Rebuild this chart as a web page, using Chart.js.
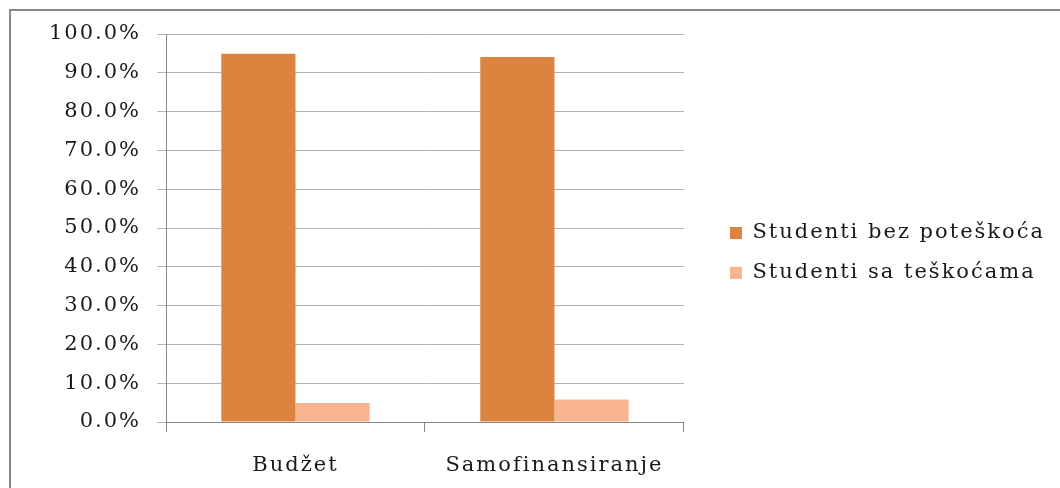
<!DOCTYPE html>
<html>
<head>
<meta charset="utf-8">
<script src="https://cdn.jsdelivr.net/npm/chart.js@4.4.1/dist/chart.umd.min.js"></script>
<style>
  html, body { margin: 0; padding: 0; background: #fff; }
  #frame { position: absolute; left: 9px; top: 9px; width: 1060px; height: 488px;
           border-left: 2px solid #878787; border-top: 2px solid #878787; }
  #wrap { position: absolute; left: 0; top: 0; width: 1060px; height: 488px; }
</style>
</head>
<body>
<div id="frame"></div>
<div id="wrap"><canvas id="chart"></canvas></div>
<script>
// data (percent)
const categories = ["Budžet", "Samofinansiranje"];
const seriesNames = ["Studenti bez poteškoća", "Studenti sa teškoćama"];
const bezPoteskoca = [94.9, 94.1];
const saTeskocama = [4.9, 5.8];

const textFont = { family: "'DejaVu Serif', serif", size: 21 };
const textColor = "#1a1a1a";

// canvas has no letter-spacing option in Chart.js, so set it on the context
const spacing = {
  id: "spacing",
  beforeUpdate(chart) { chart.ctx.letterSpacing = "2px"; },
  beforeLayout(chart) { chart.ctx.letterSpacing = "2px"; },
  beforeDraw(chart) { chart.ctx.letterSpacing = "2px"; }
};

const ctx = document.getElementById("chart").getContext("2d");
const chart = new Chart(ctx, {
  type: "bar",
  data: {
    labels: categories,
    datasets: [
      {
        label: seriesNames[0],
        data: bezPoteskoca,
        backgroundColor: "#dc843f",
        categoryPercentage: 0.573,
        barPercentage: 1.0,
      },
      {
        label: seriesNames[1],
        data: saTeskocama,
        backgroundColor: "#f9b591",
        categoryPercentage: 0.573,
        barPercentage: 1.0,
      },
    ],
  },
  options: {
    responsive: true,
    maintainAspectRatio: false,
    animation: false,
    layout: { padding: { top: 18, right: 5, bottom: 0, left: 0 } },
    plugins: {
      tooltip: { enabled: false },
      legend: {
        position: "right",
        maxWidth: 400,
        labels: {
          boxWidth: 12,
          boxHeight: 12,
          padding: 19,
          color: textColor,
          font: textFont,
        },
      },
    },
    scales: {
      x: {
        grid: {
          offset: true,
          drawOnChartArea: false,
          drawTicks: true,
          tickLength: 10,
          color: "#878787",
        },
        border: { color: "#878787" },
        ticks: { color: textColor, font: textFont, padding: 21 },
        afterFit: (s) => { s.height = 66; },
      },
      y: {
        min: 0,
        max: 100,
        ticks: {
          stepSize: 10,
          color: textColor,
          font: textFont,
          padding: 16,
          callback: (v) => v.toFixed(1) + "%",
        },
        grid: { color: "#b3b3b3", tickLength: 9 },
        border: { color: "#878787" },
        afterFit: (s) => { s.width = 166; s.paddingTop = 34; },
      },
      y2: {
        position: "right",
        grid: { display: false },
        border: { display: false },
        ticks: { display: false },
        afterFit: (s) => { s.width = 27; },
      },
    },
  },
  plugins: [spacing],
});
</script>
</body>
</html>
